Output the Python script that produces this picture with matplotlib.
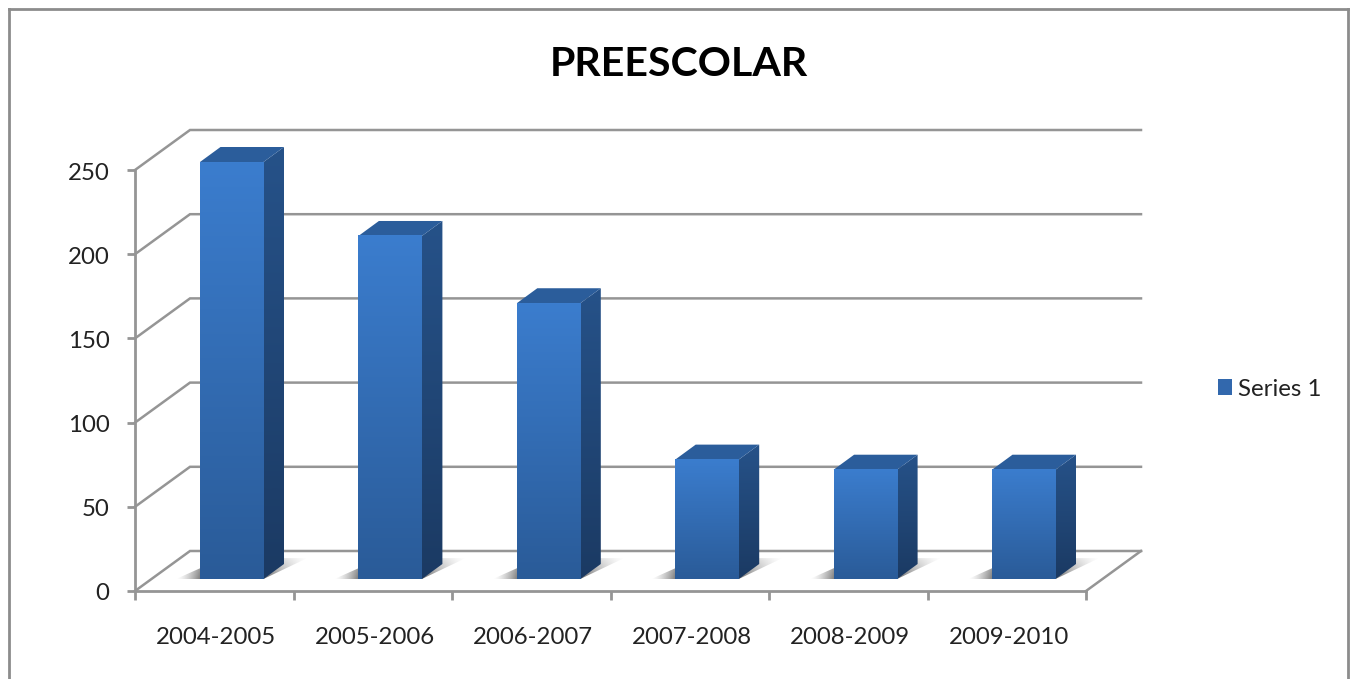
import numpy as np
import matplotlib
matplotlib.use('Agg')
import matplotlib.pyplot as plt
from matplotlib.patches import Polygon, Patch
from matplotlib.lines import Line2D
from matplotlib.transforms import ScaledTranslation

# Values
categories = ['2004-2005', '2005-2006', '2006-2007', '2007-2008', '2008-2009', '2009-2010']
values = [248, 204, 164, 71, 65, 65]
y_ticks = [0, 50, 100, 150, 200, 250]
series_name = 'Series 1'
chart_title = 'PREESCOLAR'

W, H = 1350, 679
plt.rcParams['font.family'] = ['Lato', 'DejaVu Sans']
GREY = '#959595'
TEXT = '#222222'

fig = plt.figure(figsize=(W / 100, H / 100), dpi=100, facecolor='white')

# Axes box is the front plane of the fake 3D chart
left, right, bottom, top = 135, 1086, 591, 170
ax = fig.add_axes([left / W, 1 - bottom / H, (right - left) / W, (bottom - top) / H])
ax.patch.set_alpha(0)

px_x = len(categories) / (right - left)
px_y = 250 / (bottom - top)

# Depth of the walls and of the bars, in data units
wall_dx, wall_dy = 55 * px_x, 40 * px_y
bar_dx, bar_dy = 20.5 * px_x, 15 * px_y
off_y = 12 * px_y
bar_w = 63.5 * px_x
bar_step = 158.4 / 158.5


def clip_to(im, pts):
    p = Polygon(pts, closed=True, transform=ax.transData, fc='none', ec='none')
    ax.add_patch(p)
    p.set_clip_on(False)
    im.set_clip_box(fig.bbox)
    im.set_clip_path(p)


def gradient(x0, x1, y0, y1, c_top, c_bot, clip=None, z=3):
    c_top = np.array(matplotlib.colors.to_rgb(c_top))
    c_bot = np.array(matplotlib.colors.to_rgb(c_bot))
    t = np.linspace(0, 1, 256)[:, None, None]
    img = c_top[None, None, :] * (1 - t) + c_bot[None, None, :] * t
    im = ax.imshow(img, extent=[x0, x1, y0, y1], aspect='auto', origin='upper',
                   zorder=z, interpolation='bilinear')
    if clip is not None:
        clip_to(im, clip)
    else:
        im.set_clip_on(False)
    return im


def shadow(xb, z=1.5):
    # soft floor shadow, fades out sideways and towards the back
    x0, x1 = xb - 24 * px_x, xb + bar_w + 44 * px_x
    y0, y1 = off_y, off_y + 21 * px_y
    xs = np.linspace(x0, x1, 200)
    ys = np.linspace(1, 0, 40)
    a = np.clip((xs - x0) / (26 * px_x), 0, 1) ** 1.5 * np.clip((x1 - xs) / (44 * px_x), 0, 1) ** 1.2
    img = np.zeros((40, 200, 4))
    img[..., :3] = 0.42
    img[..., 3] = a[None, :] * (0.35 + 0.65 * ys[:, None] ** 0.5 * 0 + 0.65 * (1 - ys[:, None]) ** 0.6)
    im = ax.imshow(img, extent=[x0, x1, y0, y1], aspect='auto', zorder=z, interpolation='bilinear')
    clip_to(im, [(x0, y0), (xb + bar_w, y0), (x1, y1), (xb + 23 * px_x, y1)])


# Gridlines on the side wall and back wall
for v in y_ticks:
    ax.plot([0, wall_dx, len(categories) + wall_dx], [v, v + wall_dy, v + wall_dy],
            color=GREY, lw=1.8, clip_on=False, zorder=1, solid_joinstyle='miter')
ax.plot([len(categories), len(categories) + wall_dx], [0, wall_dy], color=GREY, lw=1.8,
        clip_on=False, zorder=1)

# Bars
for i, v in enumerate(values):
    xb = i * bar_step + (200 - left) * px_x
    xr = xb + bar_w
    y0 = off_y
    y1 = v * (579 - 162) / 248 * px_y + off_y
    shadow(xb)
    gradient(xb, xr, y0, y1, '#3b7dce', '#2a5b98', z=4)
    side = [(xr, y0), (xr + bar_dx, y0 + bar_dy), (xr + bar_dx, y1 + bar_dy), (xr, y1)]
    gradient(xr, xr + bar_dx, y0, y1 + bar_dy, '#265289', '#1b3a63', clip=side, z=3.5)
    ax.add_patch(Polygon([(xb, y1), (xr, y1), (xr + bar_dx, y1 + bar_dy), (xb + bar_dx, y1 + bar_dy)],
                         closed=True, fc='#2b5d9b', ec='none', zorder=3.6, clip_on=False))

ax.set_xlim(0, len(categories))
ax.set_ylim(0, 250)

# Axes, ticks and labels
for s in ['top', 'right']:
    ax.spines[s].set_visible(False)
for s in ['left', 'bottom']:
    ax.spines[s].set_color(GREY)
    ax.spines[s].set_linewidth(2)
    ax.spines[s].set_zorder(2)
ax.set_yticks(y_ticks)
ax.set_xticks(np.arange(len(categories) + 1))
ax.set_xticklabels([])
ax.set_xticks(np.arange(len(categories)) + 0.5, categories, minor=True)
ax.tick_params(axis='y', length=6, width=2, color=GREY, pad=12.5, labelsize=17.3, labelcolor=TEXT)
ax.tick_params(axis='x', which='major', length=6.5, width=2, color=GREY)
ax.tick_params(axis='x', which='minor', length=0, pad=26, labelsize=17.3, labelcolor=TEXT)

# small nudges so the labels land where the original has them
for lab in ax.get_xticklabels(minor=True):
    lab.set_transform(lab.get_transform() + ScaledTranslation(2 / 100, 0, fig.dpi_scale_trans))
for lab in ax.get_yticklabels():
    lab.set_transform(lab.get_transform() + ScaledTranslation(0, -1 / 100, fig.dpi_scale_trans))

fig.text(679 / W, 1 - 64 / H, chart_title, ha='center', va='center', fontsize=29.6, fontweight='bold', color='black')

ax.legend(handles=[Patch(facecolor='#3268ad', edgecolor='none', label=series_name)],
          loc='center left', bbox_to_anchor=(1218 / W, 1 - 389 / H), bbox_transform=fig.transFigure,
          frameon=False, fontsize=17.3, handlelength=0.6, handleheight=0.6, handletextpad=0.25,
          labelcolor=TEXT, borderpad=0, borderaxespad=0)

# Outer chart frame, open at the bottom of the crop
frame = dict(color='#8c8c8c', lw=2, transform=fig.transFigure)
fig.add_artist(Line2D([9 / W, 9 / W], [0, 1 - 9 / H], **frame))
fig.add_artist(Line2D([9 / W, 1348 / W], [1 - 9 / H, 1 - 9 / H], **frame))
fig.add_artist(Line2D([1348 / W, 1348 / W], [0, 1 - 9 / H], **frame))

fig.savefig('out.png', dpi=100, facecolor='white')
